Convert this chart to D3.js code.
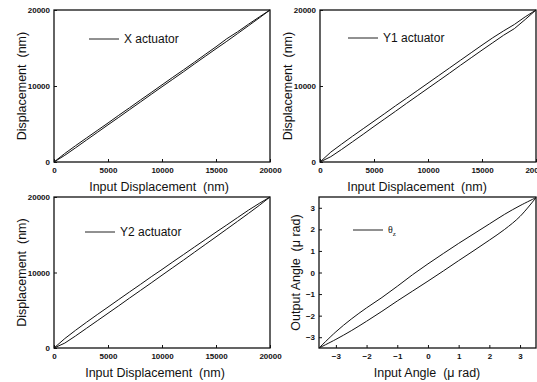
<!DOCTYPE html>
<html>
<head>
<meta charset="utf-8">
<script src="https://cdn.jsdelivr.net/npm/d3@7"></script>
<style>
  html, body { margin: 0; padding: 0; background: #fff; }
  svg { display: block; }
  text { white-space: pre; }
  .tick text { font-family: "Liberation Sans", Arial, sans-serif; font-weight: bold; font-size: 8px; fill: #111; }
  .title { font-family: "Liberation Sans", Arial, sans-serif; font-size: 12.5px; fill: #111; }
  .legend { font-family: "Liberation Sans", Arial, sans-serif; font-size: 12px; fill: #111; }
</style>
</head>
<body>
<svg id="chart" width="537" height="382"></svg>
<script>
// Commanded input positions (nm) at which each actuator was sampled
const inputNm = [0, 1000, 2000, 3000, 4000, 5000, 6000, 7000, 8000, 9000, 10000,
                 11000, 12000, 13000, 14000, 15000, 16000, 17000, 18000, 19000, 20000];

// X actuator: extending (lower) and retracting (upper) branches, nm
const xExtend  = [0, 880, 1870, 2880, 3880, 4890, 5880, 6890, 7890, 8900, 9900,
                  10890, 11880, 12900, 13900, 14900, 15880, 16900, 17920, 18950, 20000];
const xRetract = [0, 1120, 2150, 3150, 4140, 5130, 6150, 7140, 8150, 9140, 10150,
                  11150, 12130, 13130, 14150, 15160, 16220, 17130, 18120, 19080, 20000];

// Y1 actuator branches, nm
const y1Extend  = [0, 700, 1650, 2650, 3650, 4680, 5680, 6680, 7700, 8700, 9700,
                   10700, 11700, 12720, 13720, 14720, 15700, 16680, 17550, 18750, 20000];
const y1Retract = [0, 1300, 2350, 3380, 4380, 5380, 6380, 7400, 8380, 9380, 10380,
                   11380, 12380, 13380, 14380, 15380, 16350, 17250, 18100, 19100, 20000];

// Y2 actuator branches, nm
const y2Extend  = [0, 650, 1600, 2600, 3600, 4600, 5600, 6620, 7620, 8620, 9640,
                   10650, 11650, 12680, 13700, 14720, 15750, 16780, 17820, 18880, 20000];
const y2Retract = [0, 1250, 2350, 3400, 4420, 5420, 6430, 7430, 8420, 9430, 10400,
                   11400, 12380, 13370, 14350, 15340, 16300, 17280, 18250, 19150, 20000];

// Rotation about z: input angle (µrad) and the two output branches
const angleIn      = [-3.55, -3.0, -2.5, -2.0, -1.5, -1.0, -0.5, 0, 0.5, 1.0, 1.5, 2.0, 2.5, 3.0, 3.52];
const angleRising  = [-3.5, -3.1, -2.7, -2.26, -1.8, -1.32, -0.86, -0.4, 0.07, 0.55, 1.02, 1.5, 2.0, 2.6, 3.47];
const angleFalling = [-3.5, -2.75, -2.16, -1.64, -1.16, -0.64, -0.1, 0.4, 0.88, 1.35, 1.8, 2.25, 2.7, 3.1, 3.47];

// Tick values and labels
const nmTicks = [0, 5000, 10000, 15000, 20000];
const nmYTicks = [0, 10000, 20000];
const angleTicks = [-3, -2, -1, 0, 1, 2, 3];

const nmXTitle = "Input Displacement  (nm)";
const nmYTitle = "Displacement  (nm)";
const angXTitle = "Input Angle  (\u03bc rad)";
const angYTitle = "Output Angle  (\u03bc rad)";

const svg = d3.select("#chart");

const panels = [
  { box: [54, 10, 270, 162], xDom: [0, 20000], yDom: [0, 20000], xt: nmTicks, yt: nmYTicks,
    xs: inputNm, branches: [xExtend, xRetract], legend: "X actuator", legendPos: [89, 39],
    xTitle: nmXTitle, yTitle: nmYTitle, xTitleX: 159, yTitleX: 22, curve: d3.curveLinear },
  { box: [320, 10, 536, 162], xDom: [0, 20000], yDom: [0, 20000], xt: nmTicks, yt: nmYTicks,
    xs: inputNm, branches: [y1Extend, y1Retract], legend: "Y1 actuator", legendPos: [348, 38],
    xTitle: nmXTitle, yTitle: nmYTitle, xTitleX: 417, yTitleX: 288, curve: d3.curveLinear },
  { box: [54, 197, 270, 348], xDom: [0, 20000], yDom: [0, 20000], xt: nmTicks, yt: nmYTicks,
    xs: inputNm, branches: [y2Extend, y2Retract], legend: "Y2 actuator", legendPos: [85, 232],
    xTitle: nmXTitle, yTitle: nmYTitle, xTitleX: 155, yTitleX: 22, curve: d3.curveLinear },
  { box: [319, 197, 536, 348], xDom: [-3.55, 3.52], yDom: [-3.5, 3.5], xt: angleTicks, yt: angleTicks,
    xs: angleIn, branches: [angleRising, angleFalling], legend: null, legendPos: [353, 230],
    xTitle: angXTitle, yTitle: angYTitle, xTitleX: 427, yTitleX: 296, curve: d3.curveCatmullRom }
];

panels.forEach(p => {
  const [x0, y0, x1, y1] = p.box;
  const x = d3.scaleLinear().domain(p.xDom).range([x0, x1]);
  const y = d3.scaleLinear().domain(p.yDom).range([y1, y0]);
  const g = svg.append("g");

  // axes with inward ticks
  const xa = g.append("g").attr("transform", `translate(0,${y1})`)
    .call(d3.axisBottom(x).tickValues(p.xt).tickSizeInner(-3).tickSizeOuter(0).tickPadding(5)
      .tickFormat(d3.format("d")));
  const ya = g.append("g").attr("transform", `translate(${x0},0)`)
    .call(d3.axisLeft(y).tickValues(p.yt).tickSizeInner(-3).tickSizeOuter(0).tickPadding(4)
      .tickFormat(d3.format("d")));
  [xa, ya].forEach(a => {
    a.select(".domain").remove();
    a.selectAll(".tick line").attr("stroke", "#111").attr("stroke-width", 1);
  });

  // frame
  g.append("rect").attr("x", x0).attr("y", y0).attr("width", x1 - x0).attr("height", y1 - y0)
    .attr("fill", "none").attr("stroke", "#111").attr("stroke-width", 1.3);

  // hysteresis branches
  const line = d3.line().x((d, i) => x(p.xs[i])).y(d => y(d)).curve(p.curve);
  p.branches.forEach(b => {
    g.append("path").datum(b).attr("d", line)
      .attr("fill", "none").attr("stroke", "#111").attr("stroke-width", 1);
  });

  // legend
  const [lx, ly] = p.legendPos;
  g.append("line").attr("x1", lx).attr("x2", lx + 30).attr("y1", ly).attr("y2", ly)
    .attr("stroke", "#222").attr("stroke-width", 1);
  if (p.legend) {
    g.append("text").attr("class", "legend").attr("x", lx + 35).attr("y", ly + 4).text(p.legend);
  } else {
    const t = g.append("text").attr("class", "legend").attr("x", lx + 35).attr("y", ly + 3)
      .style("font-family", "'Liberation Serif', serif").style("font-size", "10px");
    t.append("tspan").text("\u03b8");
    t.append("tspan").attr("dy", 3).style("font-size", "7px").text("z");
  }

  // axis titles
  g.append("text").attr("class", "title").attr("x", p.xTitleX).attr("y", y1 + 29)
    .attr("text-anchor", "middle").text(p.xTitle);
  g.append("text").attr("class", "title")
    .attr("transform", `translate(${p.yTitleX + 4},${(y0 + y1) / 2}) rotate(-90)`)
    .attr("text-anchor", "middle").text(p.yTitle);
});
</script>
</body>
</html>
